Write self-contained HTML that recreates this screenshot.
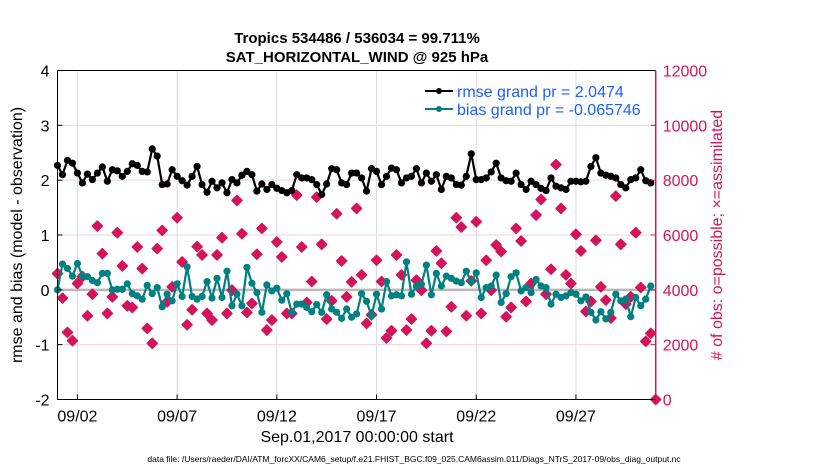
<!DOCTYPE html>
<html><head><meta charset="utf-8"><style>
body{margin:0;background:#fff;}
svg text{font-family:"Liberation Sans",sans-serif;}
</style></head><body>
<svg width="830" height="470" viewBox="0 0 830 470">
<g id="grid"></g>
<g id="marks"></g>
<g id="axes"></g>
<text x="357" y="43" text-anchor="middle" font-size="15" font-weight="bold">Tropics 534486 / 536034 = 99.711%</text>
<text x="357" y="62" text-anchor="middle" font-size="15" font-weight="bold">SAT_HORIZONTAL_WIND @ 925 hPa</text>
<text x="22" y="235" transform="rotate(-90 22 235)" text-anchor="middle" font-size="16">rmse and bias (model - observation)</text>
<text x="722" y="235" transform="rotate(-90 722 235)" text-anchor="middle" font-size="16" fill="#d4145a"># of obs: o=possible; ×=assimilated</text>
<text x="357" y="442" text-anchor="middle" font-size="16">Sep.01,2017 00:00:00 start</text>
<text x="414" y="462" text-anchor="middle" font-size="8.5">data file: /Users/raeder/DAI/ATM_forcXX/CAM6_setup/f.e21.FHIST_BGC.f09_025.CAM6assim.011/Diags_NTrS_2017-09/obs_diag_output.nc</text>
<g>
<line x1="425" y1="91" x2="453" y2="91" stroke="#000" stroke-width="2"/><circle cx="439" cy="91" r="3" fill="#000"/>
<text x="457" y="97" font-size="16" fill="#1f5fff">rmse grand pr = 2.0474</text>
<line x1="425" y1="109" x2="453" y2="109" stroke="#008080" stroke-width="2"/><circle cx="439" cy="109" r="3" fill="#008080"/>
<text x="457" y="115" font-size="16" fill="#1f5fff">bias grand pr = -0.065746</text>
</g>
</svg>
<script>
const rmse=[2.27,2.10,2.36,2.31,2.13,1.95,2.11,2.01,2.13,2.24,1.98,2.19,2.17,2.07,2.16,2.30,2.27,2.16,2.15,2.57,2.44,1.92,1.93,2.19,2.07,1.99,1.91,2.07,2.25,1.92,1.78,1.98,1.86,1.95,1.77,2.01,1.95,2.09,2.16,2.10,1.80,
1.93,1.83,1.92,1.85,1.81,1.77,1.81,2.10,2.04,2.04,2.01,1.92,1.74,1.93,2.21,2.19,1.95,1.92,2.13,2.13,2.04,1.80,2.21,2.16,1.92,2.07,2.22,2.19,1.95,2.04,2.07,2.21,1.95,2.13,1.98,2.10,1.83,2.07,2.04,1.92,
1.91,2.07,2.48,2.01,2.01,2.04,2.15,2.31,2.04,1.99,1.98,2.13,1.92,1.83,1.98,1.92,1.85,1.81,2.04,1.89,1.86,1.83,1.98,1.98,1.97,1.98,2.25,2.41,2.13,2.09,2.07,2.04,1.92,1.86,2.01,2.04,2.19,1.99,1.95];
const bias=[0.0,0.47,0.39,0.25,0.48,0.25,0.24,0.17,0.13,0.30,0.30,0.0,0.01,0.01,0.11,-0.07,-0.11,-0.17,0.08,-0.07,0.04,-0.31,-0.08,-0.20,0.11,-0.12,0.42,-0.12,-0.17,-0.12,0.15,-0.15,0.21,-0.14,0.34,-0.29,-0.08,-0.29,0.41,0.12,-0.05,
-0.41,0.09,-0.02,0.03,-0.19,-0.07,-0.41,-0.26,-0.26,-0.32,-0.40,-0.27,-0.41,-0.09,-0.35,-0.41,-0.52,-0.35,-0.50,-0.44,-0.07,-0.21,-0.47,-0.08,-0.35,0.15,-0.11,-0.09,-0.11,0.51,-0.08,0.07,0.10,0.45,-0.09,0.30,0.07,0.25,0.21,0.16,
0.13,0.34,0.15,0.31,-0.14,0.04,0.07,0.27,-0.23,-0.07,0.24,0.31,-0.02,0.04,-0.05,0.19,0.07,0.04,-0.26,-0.08,-0.14,-0.11,-0.05,-0.08,-0.20,-0.13,-0.41,-0.55,-0.40,-0.53,-0.41,-0.08,-0.20,-0.17,-0.49,-0.14,-0.29,-0.17,0.07];
const nobs=[4594,3697,2448,2145,4230,4485,3055,3842,6327,5321,3139,3745,6085,4872,3418,3357,5563,4776,2594,2049,5503,6169,3564,4109,6630,5018,2727,3273,5576,5272,3139,2897,5272,5903,3139,3988,7260,6048,3176,3503,5297,
6242,2533,2897,5745,5200,3139,3139,7454,5563,3539,4303,7381,5660,2933,3600,6775,5054,3745,4291,6969,4545,2776,3091,5079,4303,2242,2509,5272,4545,2533,2933,4351,3988,2049,2509,5418,4969,2485,3381,6630,
6290,3055,4327,6484,3139,5079,3988,5636,5394,3018,3357,6242,5781,3576,4230,6727,7296,3842,4751,8569,6969,4545,4230,6024,5418,3212,3576,5806,4109,3624,2970,7418,5660,3479,3745,6085,4085,2121,2412,0];
const xTicks=["09/02","09/07","09/12","09/17","09/22","09/27"];
const xTickDays=[1,6,11,16,21,26];
const yTicks=[-2,-1,0,1,2,3,4];
const y2Ticks=[0,2000,4000,6000,8000,10000,12000];

const NS="http://www.w3.org/2000/svg";
const X0=57.5,X1=655.7,Y0=70.5,Y1=399.5;
const xd=d=>X0+(X1-X0)*d/30;
const xi=i=>xd(i/4);
const yL=v=>Y1-(v+2)/6*(Y1-Y0);
const yR=v=>Y1-v/12000*(Y1-Y0);
function mk(tag,attrs,parent){const e=document.createElementNS(NS,tag);for(const k in attrs)e.setAttribute(k,attrs[k]);parent.appendChild(e);return e;}
const grid=document.getElementById('grid'),marks=document.getElementById('marks'),axes=document.getElementById('axes');
xTickDays.forEach((d,k)=>{
  const g=mk('line',{x1:xd(d),x2:xd(d),y1:Y0,y2:Y1,stroke:'#dcdcdc','stroke-width':1},grid);
  
  
  mk('line',{x1:xd(d),x2:xd(d),y1:Y1,y2:Y1-5,stroke:'#000'},axes);
  const lb=mk('text',{x:xd(d),y:Y1+22,'text-anchor':'middle','font-size':16},axes);
  lb.textContent=xTicks[k];
  
  
});
y2Ticks.forEach(v=>{
  if(v>0&&v<12000){const g=mk('line',{x1:X0,x2:X1,y1:yR(v),y2:yR(v),stroke:'#f7d0df','stroke-width':1},grid);
  
  }
  mk('line',{x1:X1,x2:X1-5,y1:yR(v),y2:yR(v),stroke:'#d4145a'},axes);
  const lb=mk('text',{x:X1+7,y:yR(v)+6,'font-size':16,fill:'#d4145a'},axes);
  lb.textContent=v;
  
  
});
yTicks.forEach(v=>{
  mk('line',{x1:X0,x2:X0+5,y1:yL(v),y2:yL(v),stroke:'#000'},axes);
  const lb=mk('text',{x:X0-8,y:yL(v)+6,'text-anchor':'end','font-size':16},axes);
  lb.textContent=v;
  
  
});
const zl=mk('line',{x1:X0,x2:X1,y1:yL(0),y2:yL(0),stroke:'#b8b8b8','stroke-width':2.5},grid);


nobs.forEach((v,i)=>{
  const x=xi(i),y=yR(v);
  const p=mk('path',{d:`M${x-5},${y}L${x-2.5},${y-2.5}L${x},${y-5}L${x+2.5},${y-2.5}L${x+5},${y}L${x+2.5},${y+2.5}L${x},${y+5}L${x-2.5},${y+2.5}Z`,fill:'#d4145a',stroke:'#d4145a','stroke-width':1.5,'stroke-linejoin':'round'},marks);
  
  
});
function series(vals,color,name){
  const pl=mk('polyline',{points:vals.map((v,i)=>xi(i)+','+yL(v)).join(' '),fill:'none',stroke:color,'stroke-width':2.2},marks);
  
  
  vals.forEach((v,i)=>{
    const c=mk('circle',{cx:xi(i),cy:yL(v),r:3.6,fill:color},marks);
    
    
  });
}
series(bias,'#008080','bias');
series(rmse,'#000000','rmse');
mk('path',{d:`M${X0},${Y0}V${Y1}H${X1}`,fill:'none',stroke:'#000','stroke-width':1},axes);
mk('line',{x1:X0,x2:X1,y1:Y0,y2:Y0,stroke:'#000','stroke-width':1},axes);
mk('line',{x1:X1,x2:X1,y1:Y0,y2:Y1,stroke:'#d4145a','stroke-width':1.5},axes);
</script>
</body></html>
